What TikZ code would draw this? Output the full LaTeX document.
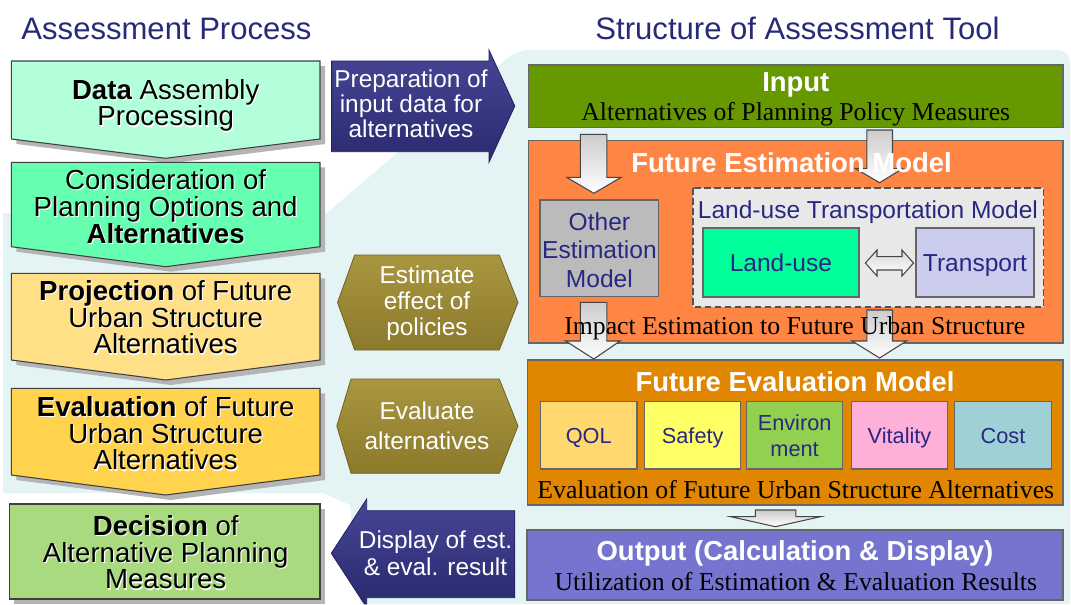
\documentclass[tikz,border=0pt]{standalone}
\usepackage{fontspec}
\setmainfont{Liberation Sans}
\newfontfamily\serifrm{Liberation Serif}
\definecolor{titlenavy}{RGB}{40,42,120}
\definecolor{innavy}{RGB}{40,40,130}
\definecolor{bgcyan}{RGB}{228,243,243}
\definecolor{shadowgray}{RGB}{180,180,180}
\definecolor{boxline}{RGB}{64,64,64}
\definecolor{cA}{RGB}{179,255,217}
\definecolor{cB}{RGB}{102,255,178}
\definecolor{cC}{RGB}{255,224,135}
\definecolor{cD}{RGB}{255,211,77}
\definecolor{cE}{RGB}{169,218,128}
\definecolor{arrTop}{RGB}{70,70,150}
\definecolor{arrBot}{RGB}{42,42,112}
\definecolor{oliveTop}{RGB}{168,150,64}
\definecolor{oliveBot}{RGB}{140,122,44}
\definecolor{inGreen}{RGB}{102,153,0}
\definecolor{estOrange}{RGB}{255,133,68}
\definecolor{evalOrange}{RGB}{224,134,0}
\definecolor{outBlue}{RGB}{117,117,208}
\definecolor{otherGray}{RGB}{187,187,187}
\definecolor{dashFill}{RGB}{232,232,232}
\definecolor{luGreen}{RGB}{0,255,153}
\definecolor{trBlue}{RGB}{204,204,238}
\definecolor{qolC}{RGB}{255,217,112}
\definecolor{safC}{RGB}{255,255,102}
\definecolor{envC}{RGB}{146,208,80}
\definecolor{vitC}{RGB}{255,176,216}
\definecolor{costC}{RGB}{158,208,214}
\newcommand\glw[1]{\rlap{\smash{\kern0.8pt\raisebox{-0.8pt}{\textcolor{white}{#1}}}}#1}
\newcommand\lpent[3]{(11.4,#1) -- (320,#1) -- (320,#2) -- (165.7,#3) -- (11.4,#2) -- cycle}
\begin{document}
\begin{tikzpicture}[x=0.75pt,y=-0.75pt,
  lbox/.style={draw=boxline, line width=0.8pt},
  rbox/.style={draw=boxline!80, line width=0.9pt},
  lbtext/.style={font=\fontsize{20.7}{20}\selectfont, align=center, text=black, inner sep=0pt},
  arrtext/.style={font=\fontsize{18.3}{18.75}\selectfont, align=center, text=white, inner sep=0pt},
  ptitle/.style={font=\fontsize{23.3}{27}\selectfont, text=titlenavy, anchor=base, inner sep=0pt},
  btitle/.style={font=\bfseries\fontsize{20.6}{24}\selectfont, text=white, anchor=base, inner sep=0pt},
  sertext/.style={font=\serifrm\fontsize{19.3}{22}\selectfont, text=black, anchor=base, inner sep=0pt},
  intext/.style={font=\fontsize{18.4}{21.5}\selectfont, text=innavy, align=center, inner sep=0pt},
  evtext/.style={font=\fontsize{16.3}{19.5}\selectfont, text=innavy, align=center, inner sep=0pt},
  grayarrow/.style={draw=gray!55!black, line width=0.8pt, top color=gray!40, bottom color=white},
  bluearrow/.style={draw=arrBot!80!black, line width=0.6pt, top color=arrTop, bottom color=arrBot},
  olivehex/.style={draw=oliveBot!80!black, line width=0.6pt, top color=oliveTop, bottom color=oliveBot}
]
\useasboundingbox (0,0) rectangle (1071,604);
% background panel
\fill[bgcyan] (3,213) -- (327,213) [rounded corners=9pt] -- (517,50) -- (1070,50) -- (1070,150) [sharp corners] -- (1070,604) -- (360,604) -- (350,505) -- (323,493) -- (3,493) -- cycle;

% titles
\node[ptitle] (t1) at (166.5,39.3) {Assessment Process};
\node[ptitle] (t2) at (797.5,39.3) {Structure of Assessment Tool};

% left process boxes
\fill[shadowgray, shift={(5,5)}] \lpent{61}{139}{158.3};
\path[lbox, fill=cA] \lpent{61}{139}{158.3};
\fill[shadowgray, shift={(5,5)}] \lpent{162.3}{246.7}{266.7};
\path[lbox, fill=cB] \lpent{162.3}{246.7}{266.7};
\fill[shadowgray, shift={(5,5)}] \lpent{273.3}{360}{380};
\path[lbox, fill=cC] \lpent{273.3}{360}{380};
\fill[shadowgray, shift={(5,5)}] \lpent{388.3}{475}{495};
\path[lbox, fill=cD] \lpent{388.3}{475}{495};
\fill[shadowgray, shift={(5,5)}] (9.3,504) rectangle (320,599);
\path[lbox, fill=cE] (9.3,504) rectangle (320,599);

\node[lbtext] (p1) at (165.7,105.5) {\glw{\textbf{Data} Assembly}\\\glw{Processing}};
\node[lbtext] (p2) at (165.7,206.7) {\glw{Consideration of}\\\glw{Planning Options and}\\\glw{\textbf{Alternatives}}};
\node[lbtext] (p3) at (165.7,317.4) {\glw{\textbf{Projection} of Future}\\\glw{Urban Structure}\\\glw{Alternatives}};
\node[lbtext] (p4) at (165.7,433.4) {\glw{\textbf{Evaluation} of Future}\\\glw{Urban Structure}\\\glw{Alternatives}};
\node[lbtext] (p5) at (165.7,552.4) {\glw{\textbf{Decision} of}\\\glw{Alternative Planning}\\\glw{Measures}};

% middle arrows and hexagons
\path[bluearrow] (331.6,61) -- (489,61) -- (489,50) -- (514.8,106) -- (489,162.3) -- (489,151.7) -- (331.6,151.7) -- cycle;
\node[arrtext] (a1) at (411,104.2) {Preparation of\\input data for\\alternatives};
\path[olivehex] (354.7,255) -- (499.3,255) -- (518,302.5) -- (499.3,350) -- (354.7,350) -- (337.5,302.5) -- cycle;
\node[arrtext, font=\fontsize{18.3}{19.4}\selectfont] (h1) at (427,303.4) {Estimate\\effect of\\policies};
\path[olivehex] (351,379) -- (499.3,379) -- (518,426) -- (499.3,473.3) -- (351,473.3) -- (336.8,426) -- cycle;
\node[arrtext, font=\fontsize{18.3}{22.5}\selectfont] (h2) at (427,426) {Evaluate\\alternatives};
\path[bluearrow] (514.8,510.7) -- (366.7,510.7) -- (366.7,499) -- (331.3,553.3) -- (364.4,604) -- (366.7,604) -- (366.7,597.7) -- (514.8,597.7) -- cycle;
\node[arrtext, font=\fontsize{18.3}{20.25}\selectfont] (a2) at (435.5,552.8) {Display of est.\\\& eval. result};

% right structure
\path[rbox, fill=inGreen] (528.8,65) rectangle (1062.9,127.3);
\path[rbox, fill=estOrange] (528.8,140.7) rectangle (1062.9,343);
\path[rbox, fill=otherGray] (540,200) rectangle (658.8,296.7);
\path[draw=boxline!90, line width=1.3pt, dash pattern=on 5pt off 2.5pt, fill=dashFill] (692.9,188.3) rectangle (1043.5,306.7);
\path[rbox, line width=1.3pt, fill=luGreen] (702.7,228.3) rectangle (859,297.3);
\path[rbox, line width=1.3pt, fill=trBlue] (916.3,228.3) rectangle (1033.7,297.3);
\path[grayarrow, top color=gray!30] (865.4,263) -- (877,250) -- (877,256.7) -- (902,256.7) -- (902,250) -- (913.5,263) -- (902,276) -- (902,270) -- (877,270) -- (877,276) -- cycle;

\path[rbox, fill=evalOrange] (527.7,360) rectangle (1062.9,505);
\path[rbox, fill=qolC] (540.4,401.7) rectangle (637,469);
\path[rbox, fill=safC] (644.7,401.7) rectangle (740.7,469);
\path[rbox, fill=envC] (746.6,401.7) rectangle (842.6,469);
\path[rbox, fill=vitC] (851.3,401.7) rectangle (947.6,469);
\path[rbox, fill=costC] (954.6,401.7) rectangle (1051.3,469);
\path[rbox, fill=outBlue] (527,530) rectangle (1062.9,600);

% gray block arrows
\path[grayarrow] (580.4,134.3) -- (606.8,134.3) -- (606.8,177.3) -- (621.2,177.3) -- (593.8,193.3) -- (566.7,177.3) -- (580.4,177.3) -- cycle;
\path[grayarrow] (866.8,130) -- (892.5,130) -- (892.5,168.3) -- (903,168.3) -- (879.6,182.7) -- (855,168.3) -- (866.8,168.3) -- cycle;
\path[grayarrow] (580.4,302.3) -- (606.8,302.3) -- (606.8,341) -- (620.1,341) -- (593.8,359) -- (565.7,341) -- (580.4,341) -- cycle;
\path[grayarrow] (866.8,310) -- (892.5,310) -- (892.5,341) -- (906.5,341) -- (879.6,358) -- (852,341) -- (866.8,341) -- cycle;
\path[grayarrow] (755.4,510) -- (795.8,510) -- (795.8,516.7) -- (820.4,516.7) -- (775.4,526.7) -- (730.8,516.7) -- (755.4,516.7) -- cycle;

% right texts
\node[btitle] (inp) at (795.8,91.7) {Input};
\node[sertext] (inps) at (795.8,120) {Alternatives of Planning Policy Measures};
\node[btitle] (fem) at (791.5,172.7) {Future Estimation Model};
\node[intext] (oth) at (599.4,249.9) {Other\\Estimation\\Model};
\node[intext, anchor=base] (ltm) at (867.9,218.3) {Land-use Transportation Model};
\node[intext, anchor=base] (lu) at (780.9,271.7) {Land-use};
\node[intext, anchor=base] (tr) at (975,271.7) {Transport};
\node[sertext] (imp) at (794.8,334) {Impact Estimation to Future Urban Structure};
\node[btitle] (fev) at (795,391.7) {Future Evaluation Model};
\node[evtext, anchor=base] (qol) at (588.7,443.3) {QOL};
\node[evtext, anchor=base] (saf) at (692.7,443.3) {Safety};
\node[evtext] (env) at (794.6,436) {Environ\\ment};
\node[evtext, anchor=base] (vit) at (899.5,443.3) {Vitality};
\node[evtext, anchor=base] (cost) at (1003,443.3) {Cost};
\node[sertext] (evs) at (795.8,498.3) {Evaluation of Future Urban Structure Alternatives};
\node[btitle] (outp) at (795,560) {Output (Calculation \& Display)};
\node[sertext] (outs) at (795.8,590) {Utilization of Estimation \& Evaluation Results};
\end{tikzpicture}
\end{document}
